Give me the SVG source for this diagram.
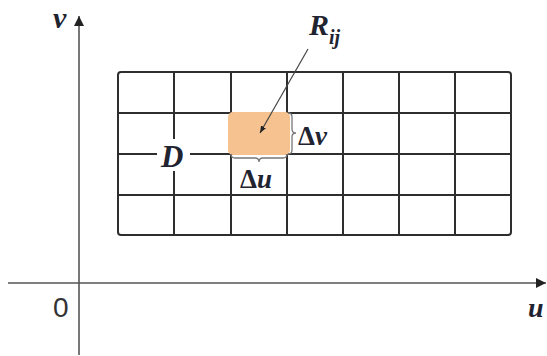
<svg xmlns="http://www.w3.org/2000/svg" width="547" height="356" viewBox="0 0 547 356">
<defs>
<style>
.ax{stroke:#555;stroke-width:1.6;fill:none}
.gl{stroke:#2e2e2e;stroke-width:2;fill:none}
.br{stroke:#777;stroke-width:1.3;fill:none}
.t{font-family:'Liberation Serif','Times New Roman',serif;font-style:italic;font-weight:bold;fill:#1f2430}
.n{font-family:'Liberation Serif','Times New Roman',serif;font-weight:bold;fill:#1f2430}
.z{font-family:'Liberation Sans',Arial,sans-serif;fill:#333}
</style>
<marker id="ah" viewBox="0 0 10 10" refX="10" refY="5" markerWidth="10" markerHeight="10" markerUnits="userSpaceOnUse" orient="auto">
<path d="M0,0 L10,5 L0,10 z" fill="#222"/>
</marker>
<marker id="sa" viewBox="0 0 10 10" refX="10" refY="5" markerWidth="7" markerHeight="7" markerUnits="userSpaceOnUse" orient="auto">
<path d="M0,1 L10,5 L0,9 z" fill="#222"/>
</marker>
</defs>
<rect width="547" height="356" fill="#fff"/>
<g id="axes">
<line class="ax" x1="79" y1="355" x2="79" y2="16" marker-end="url(#ah)"/>
<line class="ax" x1="8" y1="283" x2="546" y2="283" marker-end="url(#ah)"/>
<text class="t" x="53" y="28" font-size="30">v</text>
<text class="t" x="528" y="317" font-size="28">u</text>
<text class="z" x="53" y="317" font-size="28">0</text>
</g>
<g id="grid">
<rect class="gl" x="118" y="72" width="393" height="163" rx="3"/>
<line class="gl" x1="118" y1="113" x2="511" y2="113"/>
<line class="gl" x1="118" y1="154" x2="511" y2="154"/>
<line class="gl" x1="118" y1="195" x2="511" y2="195"/>
<line class="gl" x1="174" y1="72" x2="174" y2="235"/>
<line class="gl" x1="231" y1="72" x2="231" y2="235"/>
<line class="gl" x1="287" y1="72" x2="287" y2="235"/>
<line class="gl" x1="343" y1="72" x2="343" y2="235"/>
<line class="gl" x1="399" y1="72" x2="399" y2="235"/>
<line class="gl" x1="455" y1="72" x2="455" y2="235"/>
</g>
<g id="cell">
<rect x="228" y="112" width="62" height="43" rx="5" fill="#f6c28f"/>
<path class="br" d="M231,154 Q231,158 235,158 L255,158 Q259,158 259,162 Q259,158 263,158 L283,158 Q287,158 287,154"/>
<path class="br" d="M288,113 Q292,113 292,117 L292,129 Q292,133 296,133 Q292,133 292,137 L292,150 Q292,154 288,154"/>
<text class="n" x="240" y="188" font-size="27">Δ<tspan font-style="italic">u</tspan></text>
<text class="n" x="298" y="145" font-size="27">Δ<tspan font-style="italic">v</tspan></text>
</g>
<g id="D">
<rect x="157" y="139" width="33" height="32" fill="#fff"/>
<text class="t" x="161" y="167" font-size="31">D</text>
</g>
<g id="R">
<text class="t" x="309" y="35" font-size="30">R<tspan font-size="20" dy="9">ij</tspan></text>
</g>
<g id="connectors">
<line x1="308" y1="49" x2="260" y2="133" stroke="#444" stroke-width="1.2" marker-end="url(#sa)"/>
</g>
</svg>
